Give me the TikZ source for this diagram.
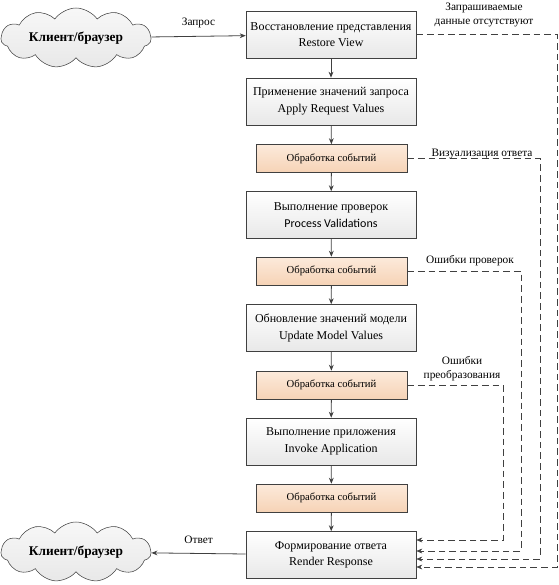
\documentclass[tikz,border=0pt]{standalone}
\usepackage{fontspec}
\setmainfont{Liberation Serif}
\newfontfamily\calibri{Carlito}
\usetikzlibrary{shapes.symbols,arrows.meta}
\definecolor{pesok1}{HTML}{FCEADB}
\definecolor{pesok2}{HTML}{F6D3B6}
\definecolor{liniya}{HTML}{404040}

\begin{document}
\begin{tikzpicture}[x=0.75pt,y=-0.75pt,>={Stealth[length=4.5pt,width=3.6pt]},
 faza/.style={draw=liniya,top color=white,bottom color=black!9,minimum width=127.5pt,minimum height=35.25pt,inner sep=0pt,align=center,font=\fontsize{9}{12.5}\selectfont},
 sobyt/.style={draw=liniya,top color=pesok1,bottom color=pesok2,minimum width=113.25pt,minimum height=21pt,inner sep=0pt,font=\fontsize{8}{10}\selectfont},
 oblako/.style={cloud,cloud puffs=11,cloud puff arc=110,cloud ignores aspect,draw=liniya,top color=black!3,bottom color=black!9,minimum width=112.5pt,minimum height=45pt,inner sep=0pt,font=\bfseries\fontsize{10}{12}\selectfont},
 strelka/.style={->,draw=liniya,semithick},
 otkaz/.style={->,draw=liniya,dash pattern=on 5pt off 3pt},
 metka/.style={font=\fontsize{8.5}{10.5}\selectfont,align=center,inner sep=0pt}]
 \useasboundingbox (0,0) rectangle (559,585); %рамка
 \node[oblako] (klient1) at (76,38) {Клиент/браузер}; %клиент сверху
 \node[oblako] (klient2) at (76,552) {Клиент/браузер}; %клиент снизу
 \node[faza] (restore) at (331,34.5) {Восстановление представления\\Restore View}; %фаза 1
 \node[faza] (apply) at (331,101.5) {Применение значений запроса\\Apply Request Values}; %фаза 2
 \node[sobyt] (sob1) at (331.5,158.5) {Обработка событий};
 \node[faza] (valid) at (331,215) {Выполнение проверок\\{\calibri Process Validations}}; %фаза 3
 \node[sobyt] (sob2) at (331.5,271) {Обработка событий};
 \node[faza] (update) at (331,328) {Обновление значений модели\\Update Model Values}; %фаза 4
 \node[sobyt] (sob3) at (331.5,385) {Обработка событий};
 \node[faza] (invoke) at (331,441.5) {Выполнение приложения\\Invoke Application}; %фаза 5
 \node[sobyt] (sob4) at (331.5,498) {Обработка событий};
 \node[faza] (render) at (331,555) {Формирование ответа\\Render Response}; %фаза 6
 \draw[strelka] (klient1) -- (restore) node[metka,midway,above=6pt]{Запрос}; %запрос
 \draw[strelka] (render) -- (klient2) node[metka,midway,above=7pt]{Ответ}; %ответ
 \draw[strelka] (restore) -- (apply);
 \draw[strelka] (apply) -- (sob1);
 \draw[strelka] (sob1) -- (valid);
 \draw[strelka] (valid) -- (sob2);
 \draw[strelka] (sob2) -- (update);
 \draw[strelka] (update) -- (sob3);
 \draw[strelka] (sob3) -- (invoke);
 \draw[strelka] (invoke) -- (sob4);
 \draw[strelka] (sob4) -- (render);
 \coordinate (ugol1) at (557,567); %обходы
 \coordinate (ugol2) at (540,559);
 \coordinate (ugol3) at (521,551);
 \coordinate (ugol4) at (503,540);
 \draw[otkaz] (restore.east) -| (ugol1) -- (ugol1 -| render.east);
 \draw[otkaz] (sob1.east) -| (ugol2) -- (ugol2 -| render.east);
 \draw[otkaz] (sob2.east) -| (ugol3) -- (ugol3 -| render.east);
 \draw[otkaz] (sob3.east) -| (ugol4) -- (ugol4 -| render.east);
 \node[metka] (net) at (484,15) {Запрашиваемые\\данные отсутствуют};
 \node[metka] (vizual) at (482,154) {Визуализация ответа};
 \node[metka] (oshib1) at (470,261) {Ошибки проверок};
 \node[metka] (oshib2) at (462,369) {Ошибки\\преобразования};
\end{tikzpicture}
\end{document}
